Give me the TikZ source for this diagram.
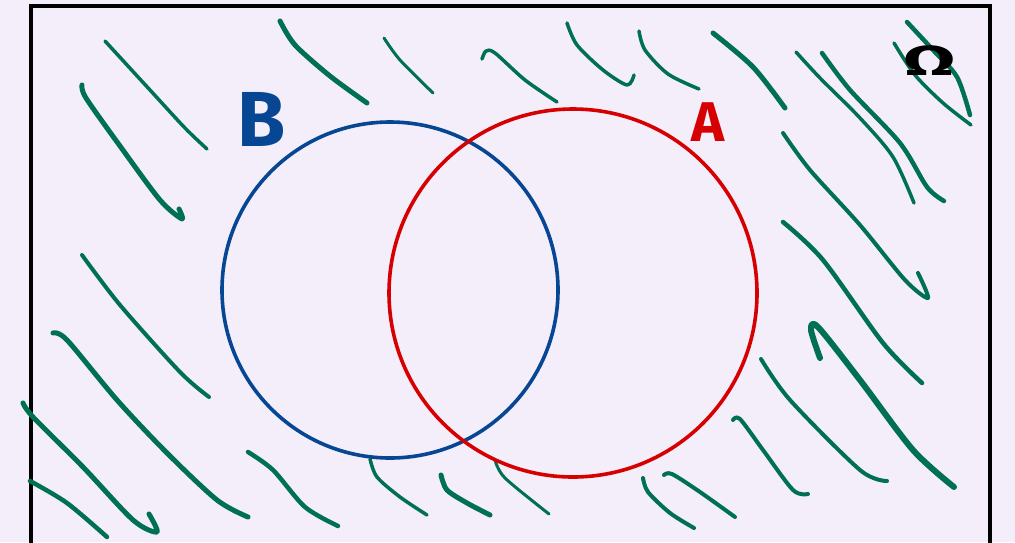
\documentclass[tikz,border=0pt]{standalone}
\usepackage{fontspec}
\setmainfont{Fira Sans}
\newfontfamily\labfont{Fira Sans Bold}
\definecolor{bgl}{RGB}{243,238,250}
\definecolor{hatchgreen}{RGB}{0,112,82}
\definecolor{setblue}{RGB}{6,70,146}
\definecolor{setred}{RGB}{214,0,0}
\begin{document}
\begin{tikzpicture}[x=1pt,y=-1pt,
  hatch/.style={draw=hatchgreen,line width=3.5pt,line cap=round,line join=round},
  hatchthick/.style={hatch,line width=5pt},
  setcircle/.style={line width=3.6pt},
  lab/.style={inner sep=0pt,font=\labfont}]
\fill[bgl] (0,0) rectangle (1015,542);
\useasboundingbox (0,0) rectangle (1015,542);
\begin{scope}
\clip (0,0) rectangle (1015,542);
\draw[line width=4pt,line join=miter] (31,6) rectangle (990,546);
\end{scope}
% hatching
\draw[hatch] plot[smooth] coordinates {(105,41) (150,90) (185,128) (207,149)};
\draw[hatchthick] plot[smooth] coordinates {(82,85) (86,98) (120,146) (160,200) (182,219) (179,209)};
\draw[hatchthick] plot[smooth] coordinates {(280,21) (295,45) (330,76) (367,103)};
\draw[hatch,line width=3pt] plot[smooth] coordinates {(384,38) (400,60) (433,93)};
\draw[hatch] plot[smooth] coordinates {(482,59) (486,51) (495,53) (525,80) (557,102)};
\draw[hatch] plot[smooth] coordinates {(567,23) (577,45) (603,70) (627,85) (634,75)};
\draw[hatch] plot[smooth] coordinates {(639,31) (645,50) (668,74) (699,89)};
\draw[hatchthick] plot[smooth] coordinates {(713,33) (753,67) (785,108)};
\draw[hatch] plot[smooth] coordinates {(796,52) (820,78) (860,118) (893,157) (914,203)};
\draw[hatchthick,line width=4.5pt] plot[smooth] coordinates {(822,53) (850,90) (900,143) (927,187) (944,201)};
\draw[hatch] plot[smooth] coordinates {(894,43) (915,75) (943,103) (971,125)};
\draw[hatchthick,line width=4.5pt] plot[smooth] coordinates {(907,22) (933,50) (957,77) (970,115)};
\draw[hatch,line width=4pt] plot[smooth] coordinates {(783,133) (810,170) (860,225) (905,280) (928,298) (918,273)};
\draw[hatchthick,line width=4.5pt] plot[smooth] coordinates {(783,222) (823,260) (883,343) (922,383)};
\draw[hatchthick,line width=6pt] plot[smooth] coordinates {(820,358) (811,330) (818,327) (860,380) (913,450) (954,487)};
\draw[hatch,line width=4pt] plot[smooth] coordinates {(761,359) (790,400) (860,470) (887,481)};
\draw[hatch,line width=4pt] plot[smooth] coordinates {(733,420) (740,419) (763,450) (793,490) (808,494)};
\draw[hatch,line width=4pt] plot[smooth] coordinates {(664,475) (672,474) (700,492) (735,517)};
\draw[hatch,line width=4pt] plot[smooth] coordinates {(643,478) (648,492) (670,513) (694,528)};
\draw[hatch,line width=3pt] plot[smooth] coordinates {(495,460) (505,478) (549,514)};
\draw[hatch,line width=4pt] plot[smooth] coordinates {(82,255) (120,305) (180,372) (209,397)};
\draw[hatchthick] plot[smooth] coordinates {(53,333) (67,340) (117,400) (167,453) (217,500) (248,517)};
\draw[hatchthick] plot[smooth] coordinates {(23,403) (33,417) (83,467) (133,520) (157,532) (149,514)};
\draw[hatch,line width=4.5pt] plot[smooth] coordinates {(30,481) (67,503) (107,537)};
\draw[hatch,line width=4.5pt] plot[smooth] coordinates {(248,452) (273,470) (305,507) (338,526)};
\draw[hatch] plot[smooth] coordinates {(370,459) (377,477) (400,497) (427,515)};
\draw[hatchthick] plot[smooth] coordinates {(441,475) (447,490) (467,503) (490,515)};
% sets
\draw[setcircle,setblue] (390,290) circle[radius=168];
\draw[setcircle,setred] (573,293) circle[radius=184];
% labels
\node[lab,text=setblue,font=\labfont\fontsize{78}{78}\selectfont] (labB) at (262,119) {B};
\node[lab,text=setred,font=\labfont\fontsize{56}{56}\selectfont] (labA) at (708,122) {A};
\node[lab,text=black,font=\labfont\fontsize{42}{42}\selectfont] (labOmega) at (930,61) {\scalebox{1.8}[1]{Ω}};
\end{tikzpicture}
\end{document}
